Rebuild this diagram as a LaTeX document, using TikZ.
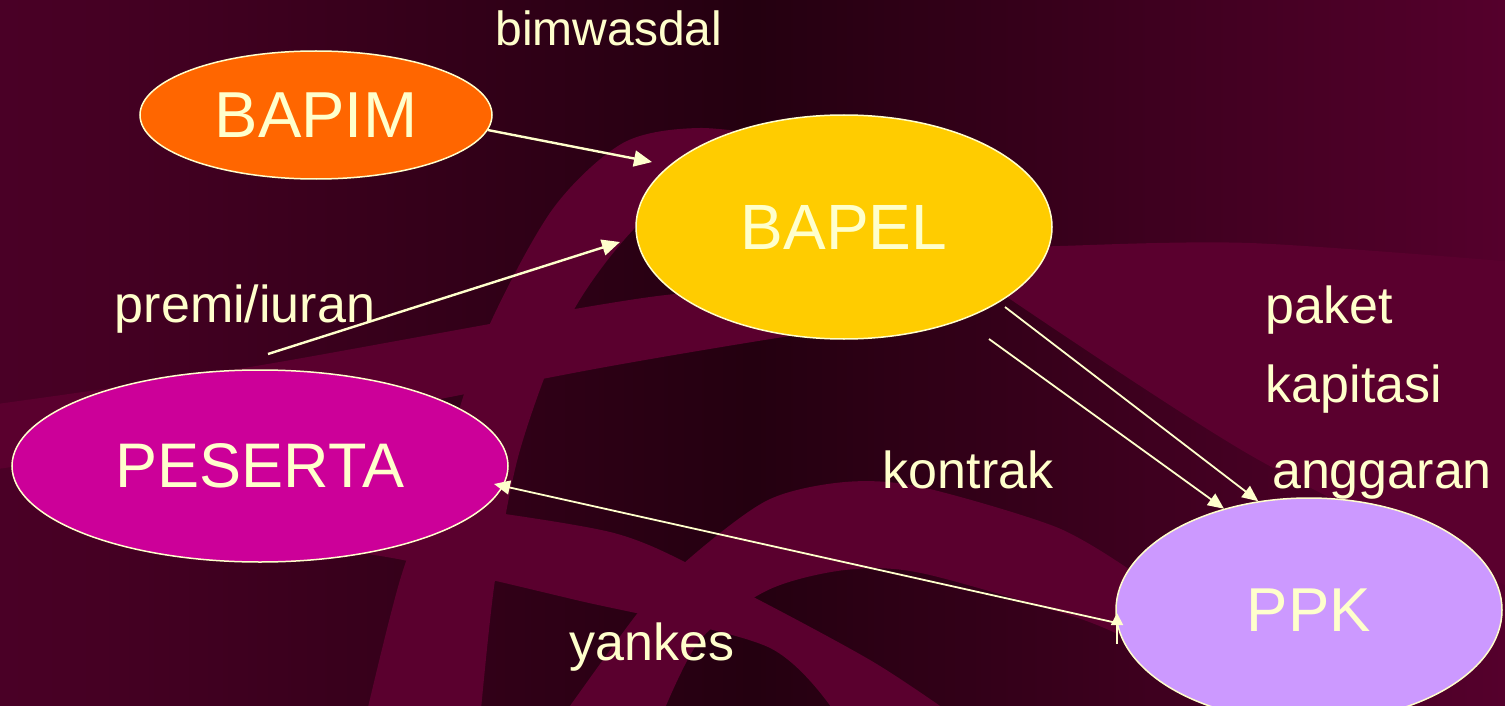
\documentclass[tikz,border=0pt]{standalone}
\usepackage{fontspec}
\setmainfont{Liberation Sans}
\usetikzlibrary{shapes.geometric,arrows.meta,calc}
\definecolor{cream}{HTML}{FFFFCC}
\definecolor{bgleft}{HTML}{4A0026}
\definecolor{bgmid}{HTML}{240010}
\definecolor{bgright}{HTML}{55002C}
\definecolor{bandc}{HTML}{5A002E}
\definecolor{bapimc}{HTML}{FF6600}
\definecolor{bapelc}{HTML}{FFCC00}
\definecolor{pesertac}{HTML}{CC0099}
\definecolor{ppkc}{HTML}{CC99FF}
\tikzset{
  ell/.style={ellipse, draw=cream, line width=1.5pt, inner sep=0pt, text=cream},
  lbl/.style={text=cream, inner sep=0pt, anchor=base, font=\fontsize{52}{60}\selectfont},
  arr/.style={draw=cream, line width=2.4pt, -{Triangle[length=18pt,width=16pt]}},
  arrthin/.style={draw=cream, line width=1.8pt, -{Triangle[length=16pt,width=14pt]}},
  band/.style={fill=bandc}
}
\begin{document}
\begin{tikzpicture}[x=1pt,y=-1pt]
% background
\shade[left color=bgleft, right color=bgright, middle color=bgmid] (0,0) rectangle (1505,706);
\useasboundingbox (0,0) rectangle (1505,706);
\begin{scope}
\clip (0,0) rectangle (1505,706);
% band A: arc rising behind BAPEL
\fill[band] plot[smooth] coordinates {(365,720) (400,580) (440,470) (485,335) (552,210) (623,143) (700,128) (800,140)}
  -- plot[smooth] coordinates {(800,200) (700,180) (633,230) (570,317) (520,450) (495,580) (480,720)} -- cycle;
% band B: from left towards BAPEL
\fill[band] plot[smooth] coordinates {(-10,405) (250,367) (650,297) (850,285)}
  -- plot[smooth] coordinates {(850,330) (790,336) (600,368) (300,425) (-10,470)} -- cycle;
% band C+D: right of BAPEL, horizontal and diagonal
\fill[band] plot[smooth] coordinates {(1000,250) (1060,246) (1250,243) (1515,262)}
  -- (1515,590) -- plot[smooth] coordinates {(1515,590) (1250,455) (1007,297)} -- cycle;
% band E: arch under kontrak
\fill[band] plot[smooth] coordinates {(560,720) (640,610) (691,557) (768,500) (845,482) (921,487) (1056,527) (1130,570)}
  -- plot[smooth] coordinates {(1130,640) (1075,617) (921,573) (845,570) (768,590) (700,640) (660,720)} -- cycle;
% band F: below PESERTA towards bottom
\fill[band] plot[smooth] coordinates {(440,505) (614,533) (720,580) (870,660) (960,720)}
  -- plot[smooth] coordinates {(840,720) (768,647) (576,600) (403,560) (300,545)} -- cycle;
\end{scope}

% nodes
\node[ell, fill=bapimc, minimum width=352pt, minimum height=128pt] (bapim) at (316,115) {\fontsize{65}{70}\selectfont BAPIM};
\node[ell, fill=bapelc, minimum width=416pt, minimum height=224pt] (bapel) at (844,227) {\fontsize{64}{70}\selectfont BAPEL};
\node[ell, fill=pesertac, minimum width=496pt, minimum height=192pt] (peserta) at (260,466) {\fontsize{63}{70}\selectfont PESERTA};
\node[ell, fill=ppkc, minimum width=386pt, minimum height=224pt] (ppk) at (1309,610) {\fontsize{62}{70}\selectfont PPK};

% labels
\node[lbl, font=\fontsize{48}{56}\selectfont] (bim) at (609,46) {bimwasdal};
\node[lbl] (premi) at (245,322) {premi/iuran};
\node[lbl] (paket) at (1329,323) {paket};
\node[lbl] (kapitasi) at (1354,402) {kapitasi};
\node[lbl] (anggaran) at (1382,488) {anggaran};
\node[lbl] (kontrak) at (968,488) {kontrak};
\node[lbl] (yankes) at (652,660) {yankes};

% connectors
\draw[arr] (bapim.-5) -- ($(bapel.center)+(-192,-65)$);
\draw[arr] ($(peserta.center)+(8,-112)$) -- ($(bapel.center)+(-224,15)$);
\draw[arrthin] ($(bapel.center)+(161,80)$) -- (ppk.115);
\draw[arrthin] ($(bapel.center)+(145,112)$) -- (ppk.130);
\coordinate (ppkin) at ($(ppk.center)+(-192,13)$);
\draw[arrthin] (ppkin) -- ($(peserta.center)+(234,18)$);
\draw[arrthin, -{Triangle[length=12pt,width=12pt]}] ($(ppkin)+(0,21)$) -- ($(ppkin)+(0,-10)$);
\end{tikzpicture}
\end{document}
